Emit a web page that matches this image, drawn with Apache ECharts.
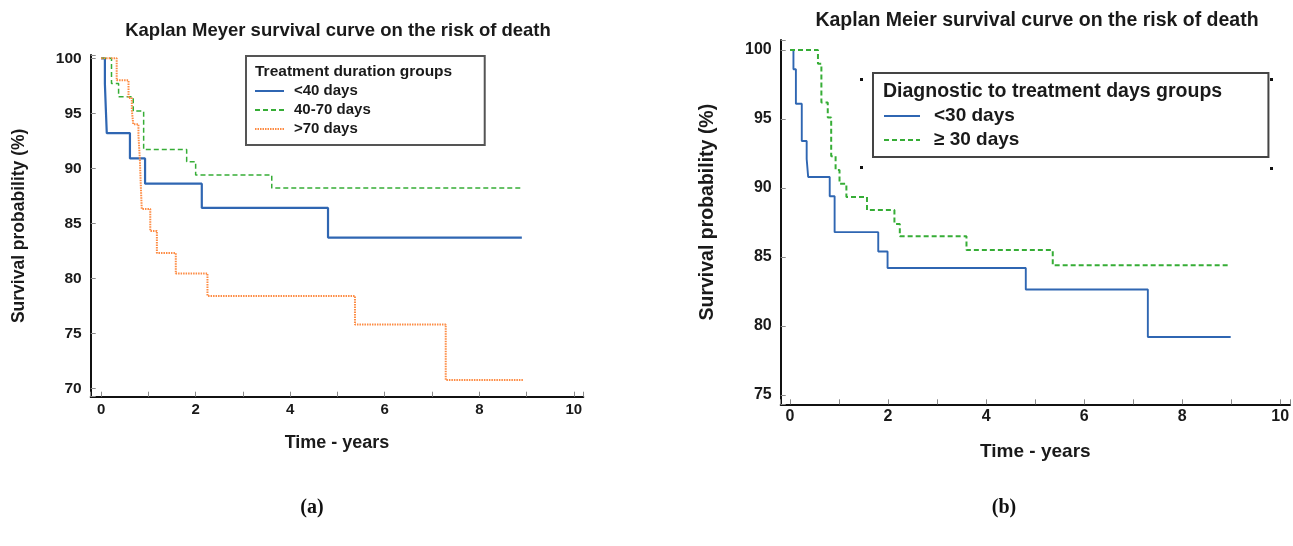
<!DOCTYPE html>
<html>
<head>
<meta charset="utf-8">
<script src="https://cdn.jsdelivr.net/npm/echarts@6/dist/echarts.min.js"></script>
<style>
  html, body { margin: 0; padding: 0; background: #fff; }
  #chart { width: 1293px; height: 546px; }
</style>
</head>
<body>
<div id="chart"></div>
<script>
// (a) treatment duration groups - event times (years) and survival (%)
var aShortTime = [0, 0.08, 0.10, 0.12, 0.61, 0.93, 2.13, 4.80, 8.90]
var aShortSurv = [100, 97.7, 95.4, 93.2, 90.9, 88.6, 86.4, 83.7, 83.7]
var aMidTime = [0, 0.22, 0.37, 0.68, 0.90, 1.81, 2.00, 3.61, 8.92]
var aMidSurv = [100, 97.7, 96.5, 95.2, 91.7, 90.6, 89.4, 88.2, 88.2]
var aLongTime = [0, 0.33, 0.58, 0.65, 0.68, 0.79, 0.82, 0.84, 0.86, 1.04, 1.18, 1.58, 2.25, 5.37, 7.29, 8.93]
var aLongSurv = [100, 98.0, 96.4, 95.3, 94.0, 93.0, 90.8, 88.4, 86.3, 84.3, 82.3, 80.45, 78.4, 75.8, 70.75, 70.75]

// (b) diagnostic to treatment days groups
var bShortTime = [0, 0.07, 0.12, 0.24, 0.34, 0.37, 0.81, 0.91, 1.80, 1.99, 4.81, 7.30, 8.99]
var bShortSurv = [100, 98.6, 96.1, 93.4, 92.1, 90.8, 89.4, 86.8, 85.4, 84.2, 82.65, 79.2, 79.2]
var bLongTime = [0, 0.57, 0.64, 0.77, 0.84, 0.93, 1.01, 1.15, 1.57, 2.13, 2.24, 3.60, 5.36, 8.94]
var bLongSurv = [100, 99.0, 96.2, 95.1, 92.3, 91.3, 90.3, 89.35, 88.4, 87.4, 86.5, 85.5, 84.4, 84.4]

var namesA = ['<40 days', '40-70 days', '>70 days']
var namesB = ['<30 days', '≥ 30 days']
var xTicksShown = [0, 2, 4, 6, 8, 10]
var yTicksA = [70, 75, 80, 85, 90, 95, 100]
var yTicksB = [75, 80, 85, 90, 95, 100]

var FONT = '"Liberation Sans", Arial, sans-serif'
var chart = echarts.init(document.getElementById('chart'))

function pairs(t, s) {
  return t.map(function (v, i) { return [v, s[i]] })
}
function near(v, list) {
  for (var i = 0; i < list.length; i++) {
    if (Math.abs(v - list[i]) < 1e-6) return true
  }
  return false
}

function makeX(gridIndex, min, max, fontSize, nameSize, margin, nameGap) {
  return {
    type: 'value',
    gridIndex: gridIndex,
    min: min,
    max: max,
    splitNumber: 10,
    name: 'Time - years',
    nameLocation: 'middle',
    nameGap: nameGap,
    nameTextStyle: { fontFamily: FONT, fontWeight: 'bold', fontSize: nameSize, color: '#1a1a1a' },
    axisLine: { show: true, onZero: false, lineStyle: { color: '#111', width: 2 } },
    axisTick: { show: true, inside: true, length: 5, lineStyle: { color: '#8a8a8a', width: 1 } },
    axisLabel: {
      margin: margin,
      fontFamily: FONT,
      fontWeight: 'bold',
      fontSize: fontSize,
      color: '#1a1a1a',
      formatter: function (v) { return near(v, xTicksShown) ? String(Math.round(v)) : '' }
    },
    splitLine: { show: false }
  }
}

function makeY(gridIndex, min, max, ticks, splitNumber, fontSize, nameSize, nameGap, namePad) {
  return {
    type: 'value',
    gridIndex: gridIndex,
    min: min,
    max: max,
    splitNumber: splitNumber,
    name: 'Survival probability (%)',
    nameLocation: 'middle',
    nameGap: nameGap,
    nameTextStyle: { fontFamily: FONT, fontWeight: 'bold', fontSize: nameSize, color: '#1a1a1a', padding: namePad },
    axisLine: { show: true, onZero: false, lineStyle: { color: '#111', width: 2 } },
    axisTick: { show: true, inside: true, length: 5, lineStyle: { color: '#8a8a8a', width: 1 } },
    axisLabel: {
      margin: 9,
      fontFamily: FONT,
      fontWeight: 'bold',
      fontSize: fontSize,
      color: '#1a1a1a',
      formatter: function (v) { return near(v, ticks) ? String(Math.round(v)) : '' }
    },
    splitLine: { show: false }
  }
}

function line(name, t, s, xi, color, width, type) {
  return {
    name: name,
    type: 'line',
    xAxisIndex: xi,
    yAxisIndex: xi,
    step: 'end',
    symbol: 'none',
    showSymbol: false,
    data: pairs(t, s),
    lineStyle: { color: color, width: width, type: type },
    itemStyle: { color: color }
  }
}

var BLUE = '#2f66b2'
var GREEN = '#36ad36'
var ORANGE = '#fd8b43'

chart.setOption({
  animation: false,
  backgroundColor: '#fff',
  title: [
    {
      text: 'Kaplan Meyer survival curve on the risk of death',
      left: 338, top: 20, textAlign: 'center', padding: 0,
      textStyle: { fontFamily: FONT, fontWeight: 'bold', fontSize: 18.5, lineHeight: 22, color: '#1a1a1a' }
    },
    {
      text: 'Kaplan Meier survival curve on the risk of death',
      left: 1037, top: 10, textAlign: 'center', padding: 0,
      textStyle: { fontFamily: FONT, fontWeight: 'bold', fontSize: 19.5, lineHeight: 22, color: '#1a1a1a' }
    },
    {
      text: 'Treatment duration groups',
      left: 255, top: 62.5, padding: 0,
      textStyle: { fontFamily: FONT, fontWeight: 'bold', fontSize: 15.5, lineHeight: 18, color: '#1a1a1a' }
    },
    {
      text: 'Diagnostic to treatment days groups',
      left: 883, top: 80.5, padding: 0,
      textStyle: { fontFamily: FONT, fontWeight: 'bold', fontSize: 19.5, lineHeight: 23, color: '#1a1a1a' }
    },
    {
      text: '{n|(}{b|a}{n|)}',
      left: 312, top: 498, textAlign: 'center', padding: 0,
      textStyle: {
        rich: {
          n: { fontFamily: '"Liberation Serif", serif', fontSize: 20, color: '#111' },
          b: { fontFamily: '"Liberation Serif", serif', fontSize: 20, fontWeight: 'bold', color: '#111' }
        }
      }
    },
    {
      text: '{n|(}{b|b}{n|)}',
      left: 1004, top: 498, textAlign: 'center', padding: 0,
      textStyle: {
        rich: {
          n: { fontFamily: '"Liberation Serif", serif', fontSize: 20, color: '#111' },
          b: { fontFamily: '"Liberation Serif", serif', fontSize: 20, fontWeight: 'bold', color: '#111' }
        }
      }
    }
  ],
  legend: [
    {
      data: namesA,
      orient: 'vertical',
      left: 246, top: 56,
      padding: [26, 114, 7, 8],
      itemWidth: 29, itemHeight: 12, itemGap: 1,
      itemStyle: { opacity: 0 },
      borderColor: '#555', borderWidth: 2, borderRadius: 0,
      backgroundColor: '#fff',
      textStyle: { fontFamily: FONT, fontWeight: 'bold', fontSize: 15, lineHeight: 18, color: '#1a1a1a', padding: [0, 0, 0, 5] }
    },
    {
      data: namesB,
      orient: 'vertical',
      left: 873, top: 73,
      padding: [32, 249, 6, 10],
      itemWidth: 36, itemHeight: 14, itemGap: 2,
      itemStyle: { opacity: 0 },
      borderColor: '#444', borderWidth: 2, borderRadius: 0,
      backgroundColor: '#fff',
      textStyle: { fontFamily: FONT, fontWeight: 'bold', fontSize: 19, lineHeight: 22, color: '#1a1a1a', padding: [0, 0, 0, 9] }
    }
  ],
  graphic: [
    { type: 'rect', left: 860, top: 78, shape: { width: 3, height: 3 }, style: { fill: '#111' } },
    { type: 'rect', left: 1270, top: 78, shape: { width: 3, height: 3 }, style: { fill: '#111' } },
    { type: 'rect', left: 860, top: 166, shape: { width: 3, height: 3 }, style: { fill: '#111' } },
    { type: 'rect', left: 1270, top: 167, shape: { width: 3, height: 3 }, style: { fill: '#111' } }
  ],
  grid: [
    { left: 90.7, top: 55, width: 492.6, height: 341.7 },
    { left: 780.7, top: 40, width: 513.3, height: 364.3 }
  ],
  xAxis: [
    makeX(0, -0.22, 10.2, 15, 18, 6, 37),
    makeX(1, -0.19, 10.2, 16, 19, 4, 38)
  ],
  yAxis: [
    makeY(0, 69.24, 100.3, yTicksA, 6, 15.5, 17.5, 62.7, [0, 0, 0, 0]),
    makeY(1, 74.33, 100.72, yTicksB, 5, 16, 19.5, 63.5, [0, 0, 0, 20])
  ],
  series: [
    line(namesA[0], aShortTime, aShortSurv, 0, BLUE, 2.2, 'solid'),
    line(namesA[1], aMidTime, aMidSurv, 0, GREEN, 1.5, [5, 3]),
    line(namesA[2], aLongTime, aLongSurv, 0, ORANGE, 2, [1.5, 1]),
    line(namesB[0], bShortTime, bShortSurv, 1, BLUE, 1.9, 'solid'),
    line(namesB[1], bLongTime, bLongSurv, 1, GREEN, 2, [5, 3])
  ]
})
</script>
</body>
</html>
